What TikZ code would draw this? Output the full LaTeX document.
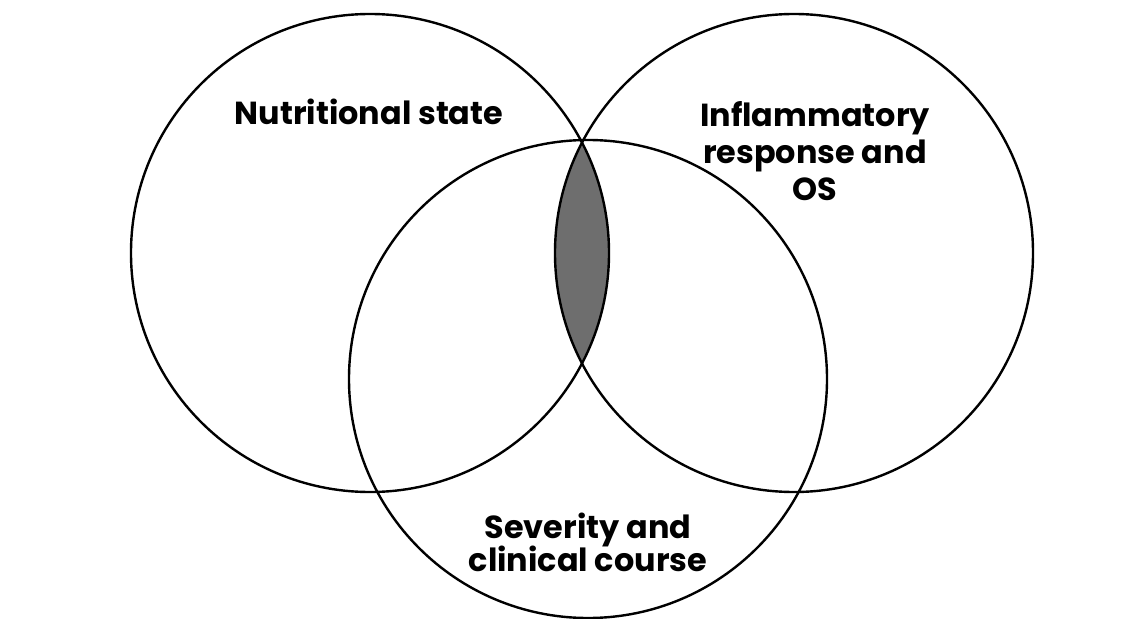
\documentclass[tikz,border=0pt]{standalone}
\usepackage{fontspec}
\newfontfamily\labfont{Poppins}
\tikzset{
  venn/.style={circle, draw=black, line width=2.4bp, minimum size=478bp, inner sep=0pt},
  lab/.style={align=center, font=\labfont\bfseries\fontsize{32}{37}\selectfont, inner sep=0pt, text=black},
}
\begin{document}
\begin{tikzpicture}[x=1bp, y=-1bp]
\useasboundingbox (0,0) rectangle (1143,619);
\fill[white] (0,0) rectangle (1143,619);
% lens
\begin{scope}
  \clip (370,253) circle[radius=239bp];
  \fill[black!57] (794,253) circle[radius=239bp];
\end{scope}
\node[venn] (c1) at (370,253) {};
\node[venn] (c2) at (794,253) {};
\node[venn] (c3) at (588,379) {};
\node[lab] (t1) at (369,112) {Nutritional state};
\node[lab] (t2) at (815,151) {Inflammatory\\response and\\OS};
\node[lab] (t3) at (588,542) {Severity and\\[-4bp]clinical course};
\end{tikzpicture}
\end{document}
